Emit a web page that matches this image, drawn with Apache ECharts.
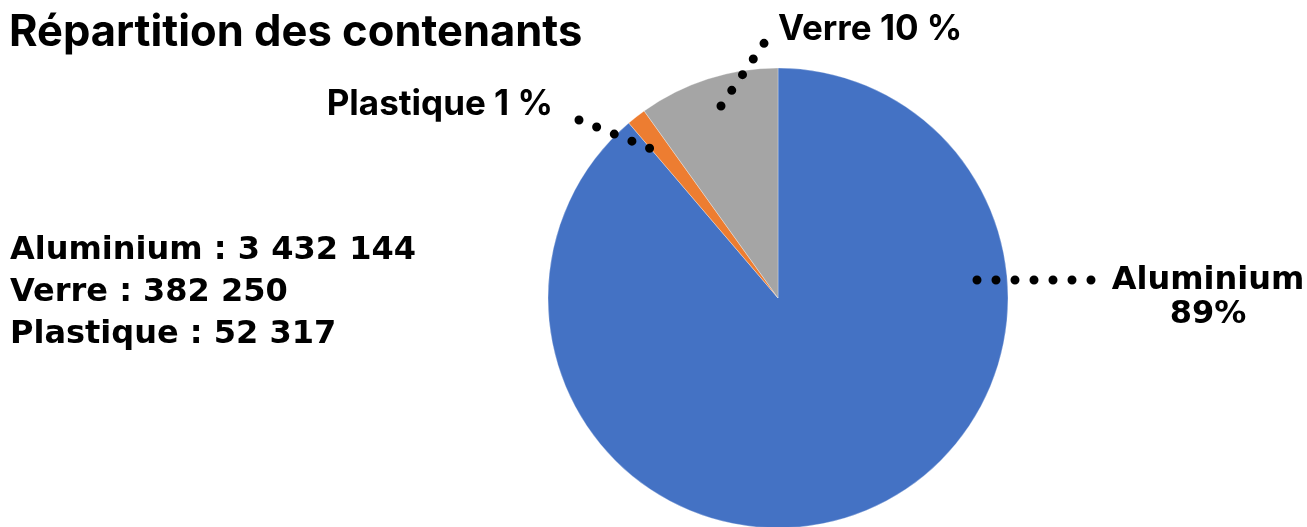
<!DOCTYPE html>
<html>
<head>
<meta charset="utf-8">
<script src="https://cdn.jsdelivr.net/npm/echarts@6/dist/echarts.min.js"></script>
<style>
html,body{margin:0;padding:0;background:#fff;}
#main{width:1307px;height:527px;}
</style>
</head>
<body>
<div id="main"></div>
<script>
const categories = ['Aluminium', 'Plastique', 'Verre'];
const values = [3432144, 52317, 382250];
const colors = ['#4472C4', '#ED7D31', '#A5A5A5'];
const listOrder = ['Aluminium', 'Verre', 'Plastique'];

function fmt(n) {
  return String(n).replace(/\B(?=(\d{3})+(?!\d))/g, ' ');
}

const listText = listOrder.map(function (name) {
  return name + ' : ' + fmt(values[categories.indexOf(name)]);
}).join('\n');

// label anchor positions and dotted leader lines (annotation layout)
const labelPlace = {
  'Aluminium': { x: 1208, y: 298, align: 'center', line: [[977, 280], [1097, 280]] },
  'Plastique': { x: 553, y: 104, align: 'right', line: [[579, 120], [654, 150]] },
  'Verre': { x: 778, y: 29, align: 'left', line: [[721, 106], [767, 39]] }
};

const leaderGraphics = categories.map(function (c) {
  return {
    type: 'polyline',
    z: 100,
    silent: true,
    shape: { points: labelPlace[c].line },
    style: { stroke: '#000', lineWidth: 9, lineDash: [0, 19], lineCap: 'round', fill: null }
  };
});

const chart = echarts.init(document.getElementById('main'));
chart.setOption({
  backgroundColor: '#ffffff',
  animation: false,
  title: [
    {
      text: 'Répartition des contenants',
      left: 9, top: 11, padding: 0,
      textStyle: { fontFamily: 'Inter', fontWeight: 700, fontSize: 43.5, color: '#000', letterSpacing: 1.7 }
    },
    {
      text: listText,
      left: 10, top: 230, padding: 0,
      textStyle: { fontFamily: 'DejaVu Sans', fontWeight: 700, fontSize: 32, lineHeight: 42, color: '#000' }
    }
  ],
  graphic: leaderGraphics,
  series: [{
    type: 'pie',
    center: [778, 298],
    radius: 230,
    startAngle: 90,
    clockwise: true,
    percentPrecision: 0,
    data: categories.map(function (c, i) {
      return { name: c, value: values[i], itemStyle: { color: colors[i] } };
    }),
    itemStyle: { borderColor: 'rgba(255,255,255,0.6)', borderWidth: 0.5 },
    label: {
      show: true,
      position: 'outside',
      color: '#000',
      formatter: function (p) {
        return p.name === 'Aluminium' ? '{a|' + p.name + '}\n{a|' + p.percent + '%}' : '{b|' + p.name + ' ' + p.percent + ' %}';
      },
      rich: {
        a: { fontFamily: 'DejaVu Sans', fontWeight: 700, fontSize: 32, lineHeight: 34, color: '#000' },
        b: { fontFamily: 'Inter', fontWeight: 700, fontSize: 35, lineHeight: 40, color: '#000' }
      }
    },
    labelLine: { show: false },
    labelLayout: function (params) {
      const p = labelPlace[categories[params.dataIndex]];
      return { x: p.x, y: p.y, align: p.align, verticalAlign: 'middle' };
    },
    emphasis: { disabled: true }
  }]
});
</script>
</body>
</html>
